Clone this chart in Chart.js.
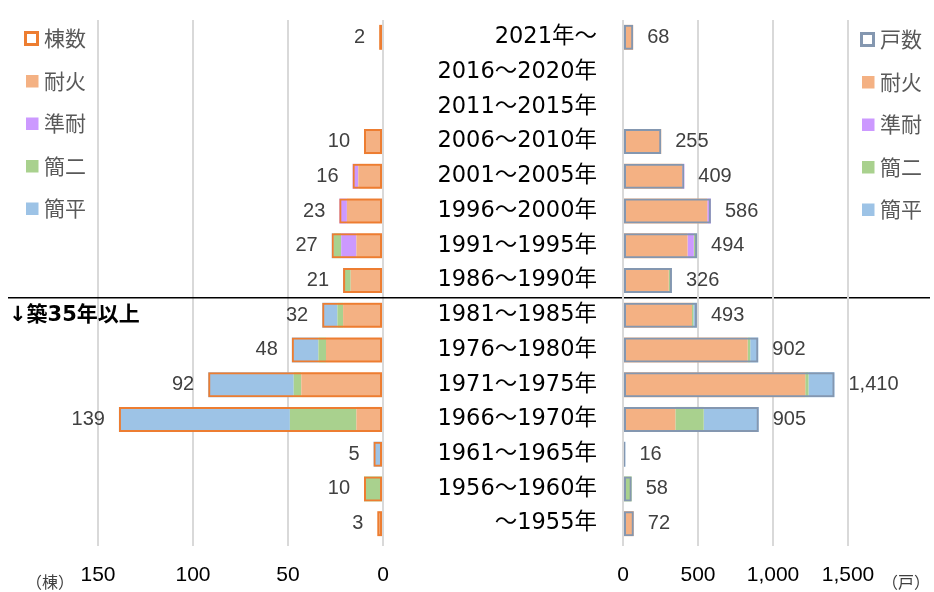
<!DOCTYPE html>
<html lang="ja">
<head>
<meta charset="utf-8">
<title>建設年度別 棟数・戸数</title>
<script src="https://cdn.jsdelivr.net/npm/chart.js@4"></script>
<style>
  html, body { margin: 0; padding: 0; background: #fff; }
  #wrap { position: relative; width: 934px; height: 592px; }
  #wrap canvas { position: absolute; left: 0; top: 0; }
</style>
</head>
<body>
<div id="wrap">
  <canvas id="leftChart" width="934" height="592" style="width:934px;height:592px"></canvas>
  <canvas id="rightChart" width="934" height="592" style="width:934px;height:592px"></canvas>
</div>
<script>
const periods = ['2021年～', '2016～2020年', '2011～2015年', '2006～2010年', '2001～2005年',
  '1996～2000年', '1991～1995年', '1986～1990年', '1981～1985年', '1976～1980年',
  '1971～1975年', '1966～1970年', '1961～1965年', '1956～1960年', '～1955年'];

// 棟数
const buildTotal   = [2, null, null, 10, 16, 23, 27, 21, 32, 48, 92, 139, 5, 10, 3];
const buildTaika   = [2, null, null, 10, 13, 19, 14, 17, 21, 30, 43, 14, 0, 0, 3];
const buildJuntai  = [0, null, null, 0, 3, 4, 8, 0, 0, 0, 0, 0, 0, 0, 0];
const buildKanni   = [0, null, null, 0, 0, 0, 4, 3, 3, 4, 4, 35, 0, 10, 0];
const buildKanpei  = [0, null, null, 0, 0, 0, 1, 1, 8, 14, 45, 90, 5, 0, 0];

// 戸数
const unitTotal    = [68, null, null, 255, 409, 586, 494, 326, 493, 902, 1410, 905, 16, 58, 72];
const unitTaika    = [68, null, null, 255, 395, 562, 430, 305, 460, 831, 1215, 349, 0, 0, 72];
const unitJuntai   = [0, null, null, 0, 14, 24, 42, 0, 0, 0, 0, 0, 0, 0, 0];
const unitKanni    = [0, null, null, 0, 0, 0, 14, 15, 9, 17, 22, 189, 0, 58, 0];
const unitKanpei   = [0, null, null, 0, 0, 0, 8, 6, 24, 54, 173, 367, 16, 0, 0];

const buildTicks = [0, 50, 100, 150];
const unitTicks = [0, 500, 1000, 1500];

const colors = { taika: '#F4B183', juntai: '#CC99FF', kanni: '#A9D18E', kanpei: '#9DC3E6' };

const numFont = "'Liberation Sans Narrow', 'Arial Narrow', 'Liberation Sans', sans-serif";
const jpFont = "'Noto Sans CJK JP', sans-serif";
const catFont = "'DejaVu Sans', 'Noto Sans CJK JP', sans-serif";

/* ===== PLUGINS ===== */
const valueLabels = {
  id: 'valueLabels',
  afterDatasetsDraw(chart, args, opts) {
    const meta = chart.getDatasetMeta(0);
    const values = chart.data.datasets[0].data;
    const ctx = chart.ctx;
    ctx.save();
    ctx.font = '20px ' + numFont;
    ctx.fillStyle = '#404040';
    ctx.textBaseline = 'middle';
    ctx.textAlign = opts.side < 0 ? 'right' : 'left';
    meta.data.forEach((bar, i) => {
      const v = values[i];
      if (v == null) return;
      ctx.fillText(v.toLocaleString('en-US'), bar.x + opts.side * opts.gap, bar.y);
    });
    ctx.restore();
  }
};

const sideLegend = {
  id: 'sideLegend',
  afterDraw(chart, args, opts) {
    const ctx = chart.ctx;
    ctx.save();
    ctx.font = '21px ' + jpFont;
    ctx.textBaseline = 'middle';
    ctx.textAlign = 'left';
    chart.data.datasets.forEach((ds, i) => {
      const y = opts.top + i * opts.step;
      if (ds.outline) {
        ctx.lineWidth = 3;
        ctx.strokeStyle = ds.borderColor;
        ctx.strokeRect(opts.x + 1.5, y - 6, 12, 12);
      } else {
        ctx.fillStyle = ds.backgroundColor;
        ctx.fillRect(opts.x + 2, y - 6, 12.5, 12.5);
      }
      ctx.fillStyle = '#595959';
      ctx.fillText(ds.label, opts.x + 20, y);
    });
    ctx.restore();
  }
};

const extras = {
  id: 'extras',
  afterDraw(chart, args, opts) {
    const ctx = chart.ctx;
    const ys = chart.scales.y;
    ctx.save();
    if (opts.divider) {
      const y = (ys.getPixelForValue(7) + ys.getPixelForValue(8)) / 2;
      ctx.strokeStyle = '#000';
      ctx.lineWidth = 1.5;
      ctx.beginPath();
      ctx.moveTo(8, y);
      ctx.lineTo(930, y);
      ctx.stroke();
      ctx.fillStyle = '#000';
      ctx.font = 'bold 21px ' + catFont;
      ctx.textBaseline = 'middle';
      ctx.fillText('↓築35年以上', 9, ys.getPixelForValue(8));
    }
    ctx.font = '16px ' + jpFont;
    ctx.fillStyle = '#404040';
    ctx.textBaseline = 'middle';
    ctx.textAlign = 'center';
    ctx.fillText(opts.unit, opts.unitX, 582);
    ctx.restore();
  }
};

/* ===== CHARTS ===== */
function makeDatasets(label, outlineColor, total, taika, juntai, kanni, kanpei) {
  const fill = (name, data, color) => ({
    label: name, data, backgroundColor: color, borderWidth: 0, order: 1
  });
  return [
    {
      label, data: total, outline: true, stack: 'total', grouped: false, order: 0,
      backgroundColor: 'rgba(0,0,0,0)', borderColor: outlineColor, borderWidth: 2, borderSkipped: false
    },
    fill('耐火', taika, colors.taika),
    fill('準耐', juntai, colors.juntai),
    fill('簡二', kanni, colors.kanni),
    fill('簡平', kanpei, colors.kanpei)
  ];
}

function xAxis(max, ticksList, reverse) {
  return {
    type: 'linear', min: 0, max, reverse, stacked: true,
    afterBuildTicks: s => { s.ticks = ticksList.map(v => ({ value: v })); },
    afterFit: s => { s.height = 51; },
    grid: { color: '#D9D9D9', lineWidth: 2, tickLength: 5 },
    border: { display: false },
    ticks: { padding: 17, color: '#000', font: { family: numFont, size: 21 } }
  };
}

new Chart(document.getElementById('leftChart'), {
  type: 'bar',
  data: {
    labels: periods,
    datasets: makeDatasets('棟数', '#ED7D31', buildTotal, buildTaika, buildJuntai, buildKanni, buildKanpei)
  },
  options: {
    indexAxis: 'y',
    responsive: false,
    animation: false,
    locale: 'en-US',
    layout: { padding: { left: 98, right: 551, top: 20, bottom: 0 } },
    datasets: { bar: { categoryPercentage: 1, barPercentage: 0.72 } },
    scales: {
      x: xAxis(150, buildTicks, true),
      y: { display: false, stacked: true }
    },
    plugins: {
      legend: { display: false },
      tooltip: { enabled: false },
      valueLabels: { side: -1, gap: 14 },
      sideLegend: { x: 24, top: 38.5, step: 42.5 },
      extras: { divider: true, unit: '（棟）', unitX: 50 }
    }
  },
  plugins: [valueLabels, sideLegend, extras]
});

new Chart(document.getElementById('rightChart'), {
  type: 'bar',
  data: {
    labels: periods,
    datasets: makeDatasets('戸数', '#8497B0', unitTotal, unitTaika, unitJuntai, unitKanni, unitKanpei)
  },
  options: {
    indexAxis: 'y',
    responsive: false,
    animation: false,
    locale: 'en-US',
    layout: { padding: { left: 0, right: 86, top: 20, bottom: 0 } },
    datasets: { bar: { categoryPercentage: 1, barPercentage: 0.72 } },
    scales: {
      x: xAxis(1500, unitTicks, false),
      y: {
        stacked: true,
        afterFit: s => { s.width = 623; s.paddingTop = 0; s.paddingBottom = 0; },
        grid: { display: false, drawTicks: false },
        border: { display: false },
        ticks: { padding: 26, color: '#000', font: { family: catFont, size: 22.5 } }
      }
    },
    plugins: {
      legend: { display: false },
      tooltip: { enabled: false },
      valueLabels: { side: 1, gap: 14 },
      sideLegend: { x: 860, top: 39.5, step: 42.5 },
      extras: { divider: false, unit: '（戸）', unitX: 906 }
    }
  },
  plugins: [valueLabels, sideLegend, extras]
});
</script>
</body>
</html>
